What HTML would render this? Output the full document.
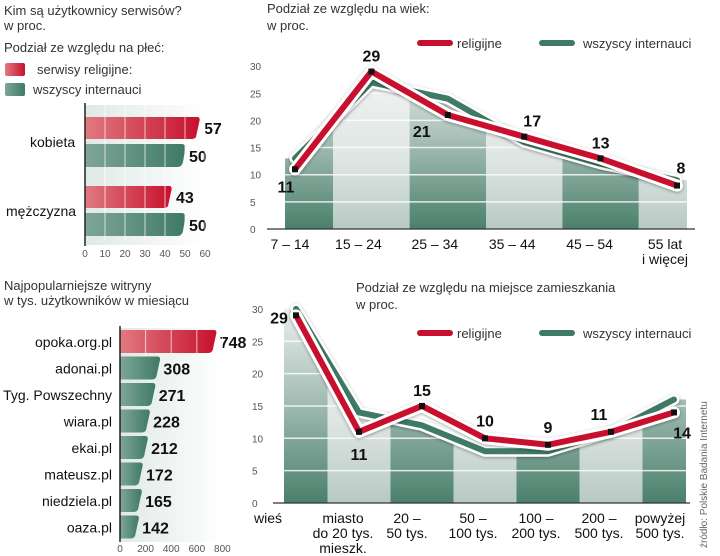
<!DOCTYPE html>
<html><head><meta charset="utf-8">
<style>
html,body{margin:0;padding:0;background:#fff;}
svg{display:block;font-family:"Liberation Sans",sans-serif;}
.t{font-size:13px;fill:#333;}
.tick{font-size:10px;fill:#555;}
.lab{font-family:"Liberation Sans Narrow","Liberation Sans",sans-serif;font-size:14px;fill:#111;}
.val{font-family:"Liberation Sans Narrow","Liberation Sans",sans-serif;font-size:16px;font-weight:bold;fill:#111;}
</style></head>
<body>
<svg id="s" width="720" height="556" viewBox="0 0 720 556" xmlns="http://www.w3.org/2000/svg">
<defs>
<linearGradient id="gRed" x1="0" x2="1" y1="0" y2="0"><stop offset="0" stop-color="#e07a80"/><stop offset="1" stop-color="#c8102e"/></linearGradient>
<linearGradient id="gGreen" x1="0" x2="1" y1="0" y2="0"><stop offset="0" stop-color="#7fa698"/><stop offset="1" stop-color="#3f7a66"/></linearGradient>
<linearGradient id="gBg" x1="0" x2="1" y1="0" y2="0"><stop offset="0" stop-color="#dfe9e5"/><stop offset="1" stop-color="#ffffff"/></linearGradient>
<linearGradient id="colDark" x1="0" x2="0" y1="0" y2="1"><stop offset="0" stop-color="#eef2f0"/><stop offset="0.45" stop-color="#a9c1b8"/><stop offset="1" stop-color="#4a806c"/></linearGradient>
<linearGradient id="colLight" x1="0" x2="0" y1="0" y2="1"><stop offset="0" stop-color="#f4f6f5"/><stop offset="0.6" stop-color="#dde5e2"/><stop offset="1" stop-color="#b7c9c2"/></linearGradient>
<filter id="sh" x="-10%" y="-10%" width="120%" height="130%"><feDropShadow dx="0" dy="1" stdDeviation="1.5" flood-color="#000" flood-opacity="0.35"/></filter>
</defs>

<g id="gender"></g>
<g id="sites"></g>
<g id="age"></g>
<g id="loc"></g>

<g>
<text class="t" x="4" y="15">Kim są użytkownicy serwisów?</text>
<text class="t" x="4" y="30">w proc.</text>
<text class="t" x="4" y="52">Podział ze względu na płeć:</text>
<rect x="5" y="63" width="20" height="13" rx="2" fill="url(#gRed)"/>
<text class="t" x="37" y="74">serwisy religijne:</text>
<rect x="5" y="83" width="20" height="13" rx="2" fill="url(#gGreen)"/>
<text class="t" x="33" y="94">wszyscy internauci</text>
</g>
<g>
<text class="t" x="4" y="290">Najpopularniejsze witryny</text>
<text class="t" x="4" y="305">w tys. użytkowników w miesiącu</text>
</g>
<g>
<text class="t" x="267" y="13">Podział ze względu na wiek:</text>
<text class="t" x="267" y="30">w proc.</text>
</g>
<g>
<text class="t" x="356" y="292">Podział ze względu na miejsce zamieszkania</text>
<text class="t" x="356" y="309">w proc.</text>
</g>

<text class="tick" transform="translate(707,548) rotate(-90)" style="font-size:10px;fill:#666">źródło: Polskie Badania Internetu</text>
</svg>

<script>
// ---- gender data
const genderCats = ["kobieta","mężczyzna"];
const genderRel = [57,43];
const genderAll = [50,50];
const genderTicks = [0,10,20,30,40,50,60];
// ---- sites data
const siteNames = ["opoka.org.pl","adonai.pl","Tyg. Powszechny","wiara.pl","ekai.pl","mateusz.pl","niedziela.pl","oaza.pl"];
const siteValues = [748,308,271,228,212,172,165,142];
const siteTicks = [0,200,400,600,800];
// ---- age data
const ageCats = [["7 – 14"],["15 – 24"],["25 – 34"],["35 – 44"],["45 – 54"],["55 lat","i więcej"]];
const ageRel = [11,29,21,17,13,8];
const ageAll = [13,27,24,16,12,9];
const ageTicks = [0,5,10,15,20,25,30];
// ---- location data
const locCats = [["wieś"],["miasto","do 20 tys.","mieszk."],["20 –","50 tys."],["50 –","100 tys."],["100 –","200 tys."],["200 –","500 tys."],["powyżej","500 tys."]];
const locRel = [29,11,15,10,9,11,14];
const locAll = [30,14,12,8,8,11,16];
const locTicks = [0,5,10,15,20,25,30];

const NS="http://www.w3.org/2000/svg";
function mk(parent,tag,attrs,text){const e=document.createElementNS(NS,tag);for(const k in attrs)e.setAttribute(k,attrs[k]);if(text!==undefined)e.textContent=text;parent.appendChild(e);return e;}

// ===== Gender chart
(function(){
  const g=document.getElementById('gender');
  const x=v=>85+v*2.0;
  mk(g,'rect',{x:85,y:105,width:x(60)-85,height:140,fill:'url(#gBg)'});
  genderTicks.forEach(t=>{
    const tl=mk(g,'text',{class:'tick',x:x(t),y:257,'text-anchor':'middle'},t);
    
    
  });
  const rowY=[117,186];
  genderCats.forEach((c,i)=>{
    const y=rowY[i];
    const cl=mk(g,'text',{class:'lab',x:6+(i==0?24:0),y:y+30},c);
    
    
    const r=mk(g,'path',{d:`M85 ${y} H${x(genderRel[i])-2} Q${x(genderRel[i])+2} ${y} ${x(genderRel[i])} ${y+6} L${x(genderRel[i])-3} ${y+20} Q${x(genderRel[i])-4} ${y+22} ${x(genderRel[i])-8} ${y+22} H85 Z`,fill:'url(#gRed)'});
    
    
    const y2=y+27;
    const b=mk(g,'path',{d:`M85 ${y2} H${x(genderAll[i])-3} Q${x(genderAll[i])+1} ${y2} ${x(genderAll[i])} ${y2+6} L${x(genderAll[i])-2} ${y2+18} Q${x(genderAll[i])-3} ${y2+23} ${x(genderAll[i])-8} ${y2+23} H85 Z`,fill:'url(#gGreen)'});
    
    
    const v1=mk(g,'text',{class:'val',x:x(genderRel[i])+5,y:y+17},genderRel[i]);
    
    
    const v2=mk(g,'text',{class:'val',x:x(genderAll[i])+4,y:y2+18},genderAll[i]);
    
    
  });
  genderTicks.slice(1).forEach(t=>mk(g,'line',{x1:x(t),x2:x(t),y1:105,y2:240,stroke:'#fff','stroke-width':1,opacity:0.7}));
  mk(g,'line',{x1:85,x2:85,y1:103,y2:246,stroke:'#222','stroke-width':1.5});
})();

// ===== Sites chart
(function(){
  const g=document.getElementById('sites');
  const x=v=>120+v*0.128;
  mk(g,'rect',{x:120,y:328,width:x(800)-120,height:214,fill:'url(#gBg)'});
  siteTicks.forEach(t=>{
    const tl=mk(g,'text',{class:'tick',x:x(t),y:552,'text-anchor':'middle'},t);
    
    
  });
  siteNames.forEach((n,i)=>{
    const y=330+i*26.5, h=23, e=x(siteValues[i]);
    const bar=mk(g,'path',{d:`M120 ${y} H${e-2} Q${e+2} ${y} ${e} ${y+6} L${e-3} ${y+h-3} Q${e-4} ${y+h} ${e-8} ${y+h} H120 Z`,fill:i==0?'url(#gRed)':'url(#gGreen)'});
    
    
    const l=mk(g,'text',{class:'lab',x:112,y:y+17,'text-anchor':'end'},n);
    
    
    const v=mk(g,'text',{class:'val',x:e+4,y:y+18},siteValues[i]);
    
    
  });
  siteTicks.slice(1).forEach(t=>mk(g,'line',{x1:x(t),x2:x(t),y1:330,y2:354,stroke:'#fff','stroke-width':1,opacity:0.7}));
  mk(g,'line',{x1:120,x2:120,y1:326,y2:542,stroke:'#222','stroke-width':1.5});
})();

// ===== generic line chart
function lineChart(id,cats,rel,all,ticks,o){
  const g=document.getElementById(id);
  const x=i=>o.x0+i*o.dx;
  const y=v=>o.y0-v*o.ky;
  const n=cats.length;
  const cid=id+'clip';
  const cp=mk(g,'clipPath',{id:cid});
  let d=`M${x(0)-o.pad} ${y(0)} L${x(0)-o.pad} ${y(all[0])}`;
  all.forEach((v,i)=>{d+=` L${x(i)} ${y(v)}`;});
  d+=` L${x(n-1)+o.pad} ${y(all[n-1])} L${x(n-1)+o.pad} ${y(0)} Z`;
  mk(cp,'path',{d:d});
  const cols=mk(g,'g',{'clip-path':`url(#${cid})`});
  for(let i=0;i<n;i++){
    const c=mk(cols,'rect',{x:x(i)-o.dx/2+(i==0?-o.dx/2:0),y:y(ticks[ticks.length-1])-5,width:o.dx+(i==0?o.dx/2:0),height:y(0)-y(ticks[ticks.length-1])+5,fill:i%2==0?'url(#colDark)':'url(#colLight)'});
    
    
  }
  ticks.forEach(t=>{
    if(t>0) mk(g,'line',{x1:o.axL,x2:o.axR,y1:y(t),y2:y(t),stroke:'#fff','stroke-width':1.5,opacity:0.8});
    const tl=mk(g,'text',{class:'tick',x:o.tickX,y:y(t)+4},t);
    
    
  });
  mk(g,'line',{x1:o.axL,x2:o.axR,y1:y(0),y2:y(0),stroke:'#333','stroke-width':1.2});
  cats.forEach((c,i)=>{
    c.forEach((s,j)=>{
      const tl=mk(g,'text',{class:'lab',x:x(i)+(o.labOff?o.labOff[i]:0),y:y(0)+o.labY+j*15,'text-anchor':'middle'},s);
      
      
    });
  });
  const pts=a=>a.map((v,i)=>`${x(i)},${y(v)}`).join(' ');
  mk(g,'polyline',{points:pts(all),fill:'none',stroke:'#fff','stroke-width':11,'stroke-linejoin':'round','stroke-linecap':'round',filter:'url(#sh)'});
  const gl=mk(g,'polyline',{points:pts(all),fill:'none',stroke:'#3f7a66','stroke-width':6,'stroke-linejoin':'round','stroke-linecap':'round'});
  
  
  mk(g,'polyline',{points:pts(rel),fill:'none',stroke:'#fff','stroke-width':12,'stroke-linejoin':'round','stroke-linecap':'round',filter:'url(#sh)'});
  const rl=mk(g,'polyline',{points:pts(rel),fill:'none',stroke:'#c8102e','stroke-width':6,'stroke-linejoin':'round','stroke-linecap':'round'});
  
  
  rel.forEach((v,i)=>{
    const p=mk(g,'rect',{x:x(i)-3,y:y(v)-3,width:6,height:6,fill:'#111'});
    
    
    const off=o.valOff[i];
    const t=mk(g,'text',{class:'val',x:x(i)+off[0],y:y(v)+off[1],'text-anchor':'middle'},v);
    
    
  });
  const lg=mk(g,'g',{});
  
  
  mk(lg,'line',{x1:o.legX,x2:o.legX+30,y1:o.legY,y2:o.legY,stroke:'#c8102e','stroke-width':6,'stroke-linecap':'round'});
  mk(lg,'text',{class:'t',x:o.legX+37,y:o.legY+5},'religijne');
  mk(lg,'line',{x1:o.legX+122,x2:o.legX+152,y1:o.legY,y2:o.legY,stroke:'#3f7a66','stroke-width':6,'stroke-linecap':'round'});
  mk(lg,'text',{class:'t',x:o.legX+163,y:o.legY+5},'wszyscy internauci');
}

lineChart('age',ageCats,ageRel,ageAll,ageTicks,{
  x0:295,dx:76.4,y0:229,ky:5.43,pad:10,axL:267,axR:695,tickX:250,labY:20,
  labOff:[-5,-13,-13,-12,-11,-12],
  valOff:[[-9,23],[0,-10],[-26,22],[8,-10],[0,-10],[4,-12]],
  legX:420,legY:43
});
lineChart('loc',locCats,locRel,locAll,locTicks,{
  x0:296,dx:63,y0:503,ky:6.47,pad:12,axL:273,axR:690,tickX:252,labY:20,
  labOff:[-28,-16,-15,-12,-12,-12,-14],
  valOff:[[-17,8],[0,28],[0,-10],[0,-12],[0,-12],[-12,-12],[8,26]],
  legX:420,legY:333
});
</script>
</body></html>
